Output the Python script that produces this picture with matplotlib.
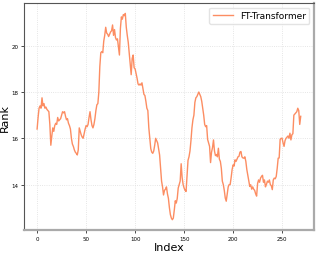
import matplotlib
matplotlib.use("Agg")
import matplotlib.pyplot as plt

# Rank per index
rank = [
    16.4, 16.9, 17.3, 17.4, 17.3, 17.75, 17.4, 17.5, 17.3, 17.35,
    17.25, 17.2, 17.15, 16.6, 15.7, 16.1, 16.45, 16.3, 16.55, 16.65,
    16.6, 16.9, 16.75, 16.8, 16.85, 17.0, 17.15, 17.1, 17.15, 16.95,
    16.8, 16.85, 16.65, 16.55, 16.4, 16.0, 15.75, 15.65, 15.5, 15.4,
    15.35, 15.28, 15.5, 16.45, 16.3, 16.15, 16.05, 16.0, 16.2, 16.4,
    16.55, 16.5, 16.6, 16.9, 17.15, 16.8, 16.55, 16.45, 16.6, 16.85,
    17.2, 17.45, 17.5, 18.0, 19.1, 19.7, 19.75, 19.7, 20.2, 20.45,
    20.8, 20.55, 20.5, 20.4, 20.5, 20.6, 20.65, 20.9, 20.45, 20.7,
    20.35, 20.25, 20.3, 19.95, 19.6, 20.75, 21.25, 21.15, 21.35, 21.3,
    21.4, 20.8, 20.45, 20.15, 19.7, 19.2, 18.75, 19.45, 19.6, 19.05,
    19.0, 18.8, 18.6, 18.35, 18.3, 18.35, 18.3, 18.4, 18.15, 17.9,
    17.85, 17.6, 17.3, 17.2, 16.45, 16.0, 15.55, 15.4, 15.35, 15.45,
    15.7, 16.0, 15.9, 15.8, 15.55, 15.28, 14.7, 14.15, 13.9, 13.55,
    13.75, 13.8, 13.9, 13.6, 13.4, 13.0, 12.7, 12.55, 12.48, 12.55,
    12.9, 13.3, 13.2, 13.4, 13.85, 14.0, 14.15, 14.9, 14.3, 14.0,
    13.85, 13.75, 13.7, 14.4, 15.05, 15.2, 15.45, 15.9, 16.45, 16.8,
    17.0, 17.55, 17.75, 17.8, 17.9, 18.0, 17.9, 17.8, 17.6, 17.3,
    17.0, 16.6, 16.5, 16.55, 15.95, 15.8, 15.65, 14.95, 15.4, 15.6,
    15.93, 15.45, 15.25, 15.3, 15.2, 15.57, 15.1, 15.0, 14.7, 14.15,
    14.0, 13.75, 13.42, 13.28, 13.6, 13.9, 14.0, 14.0, 14.3, 14.65,
    14.85, 14.8, 15.07, 15.0, 15.1, 15.2, 15.22, 15.4, 15.43, 15.2,
    15.15, 15.14, 15.2, 15.0, 14.65, 14.4, 14.14, 13.92, 13.99, 13.8,
    13.9, 13.8, 13.75, 13.6, 13.5, 14.05, 14.2, 14.1, 14.28, 14.35,
    14.4, 14.1, 14.2, 13.9, 14.0, 14.15, 14.1, 14.2, 14.0, 13.95,
    13.78, 14.2, 14.28, 14.25, 14.35, 14.7, 15.14, 15.15, 15.95, 16.0,
    16.0, 15.8, 15.65, 15.9, 16.0, 16.05, 16.1, 16.0, 16.22, 15.93,
    16.15, 16.2, 17.0, 17.05, 17.1, 17.15, 17.3, 17.2, 16.6, 16.95,
]
index = list(range(len(rank)))
label = "FT-Transformer"

fig = plt.figure(figsize=(3.19, 2.55), dpi=100)
ax = fig.add_axes([0.075, 0.094, 0.909, 0.89])

ax.plot(index, rank, color="#fc8d62", linewidth=1.0, label=label)

ax.set_xticks([0, 50, 100, 150, 200, 250])
ax.set_yticks([14, 16, 18, 20])
ax.tick_params(labelsize=4, length=2, width=0.5, pad=2)
ax.grid(True, linestyle=":", color="#dddddd", linewidth=0.6)

ax.set_xlabel("Index", fontsize=8, labelpad=1)
ax.set_ylabel("Rank", fontsize=8, labelpad=1)

for side in ("left", "top"):
    ax.spines[side].set_color("#555555")
    ax.spines[side].set_linewidth(0.8)
for side in ("right", "bottom"):
    ax.spines[side].set_color("#aaaaaa")
    ax.spines[side].set_linewidth(1.6)

ax.legend(loc="upper right", fontsize=6.5, handlelength=2.2, framealpha=0.8,
          borderpad=0.4, edgecolor="#dddddd")

fig.savefig("out.png", dpi=100)
